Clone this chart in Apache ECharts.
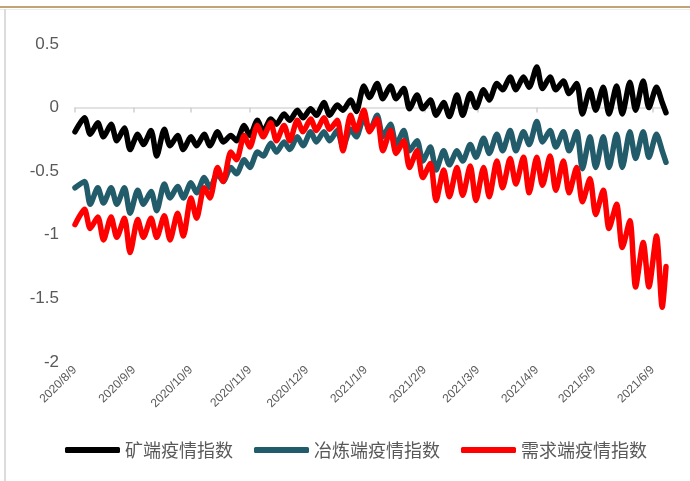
<!DOCTYPE html>
<html><head><meta charset="utf-8">
<script src="https://cdn.jsdelivr.net/npm/echarts@6/dist/echarts.min.js"></script>
<style>html,body{margin:0;padding:0;background:#fff}#c{width:690px;height:481px}</style>
</head><body><div id="c"></div>
<script>
const dates = [
'2020-08-09',
'2020-08-14','2020-08-17','2020-08-21','2020-08-24','2020-08-28','2020-08-31',
'2020-09-04','2020-09-07','2020-09-11','2020-09-14','2020-09-18','2020-09-21','2020-09-25','2020-09-28',
'2020-10-02','2020-10-05','2020-10-09','2020-10-12','2020-10-16','2020-10-19','2020-10-23','2020-10-26',
'2020-10-30','2020-11-02','2020-11-06','2020-11-09','2020-11-13','2020-11-16','2020-11-20','2020-11-23',
'2020-11-27','2020-11-30','2020-12-04','2020-12-07','2020-12-11','2020-12-14','2020-12-18','2020-12-21',
'2020-12-25','2020-12-28','2021-01-01','2021-01-04','2021-01-08','2021-01-11','2021-01-15','2021-01-18',
'2021-01-22','2021-01-25','2021-01-29','2021-02-01','2021-02-05','2021-02-08','2021-02-12','2021-02-15',
'2021-02-19','2021-02-22','2021-02-26','2021-03-01','2021-03-05','2021-03-08','2021-03-12','2021-03-15',
'2021-03-19','2021-03-22','2021-03-26','2021-03-29','2021-04-02','2021-04-05','2021-04-09','2021-04-12',
'2021-04-16','2021-04-19','2021-04-23','2021-04-26','2021-04-30','2021-05-03','2021-05-07','2021-05-10',
'2021-05-14','2021-05-17','2021-05-21','2021-05-24','2021-05-28','2021-05-31','2021-06-04','2021-06-07',
'2021-06-11','2021-06-14',
'2021-06-16'
];

const mineIndex = [
-0.19,
-0.08,-0.21,-0.12,-0.23,-0.13,-0.26,-0.16,-0.33,-0.21,-0.29,-0.18,-0.38,-0.17,-0.30,
-0.22,-0.33,-0.23,-0.30,-0.21,-0.30,-0.19,-0.27,-0.22,-0.26,-0.14,-0.22,-0.10,-0.19,
-0.09,-0.13,-0.05,-0.10,-0.02,-0.08,-0.01,-0.06,0.04,-0.06,0.02,-0.02,0.06,-0.03,
0.17,0.08,0.19,0.07,0.17,0.07,0.15,-0.01,0.10,-0.01,0.06,-0.06,0.04,-0.07,
0.10,-0.06,0.11,0.00,0.14,0.06,0.19,0.14,0.24,0.14,0.24,0.16,0.32,0.15,
0.24,0.14,0.21,0.11,0.19,-0.05,0.14,-0.02,0.16,-0.05,0.17,-0.05,0.20,-0.02,
0.21,0.00,0.16,0.04,
-0.04
];

const smeltIndex = [
-0.63,
-0.58,-0.76,-0.63,-0.75,-0.63,-0.76,-0.63,-0.83,-0.65,-0.76,-0.66,-0.81,-0.60,-0.71,
-0.62,-0.71,-0.59,-0.67,-0.55,-0.63,-0.52,-0.58,-0.47,-0.52,-0.41,-0.47,-0.35,-0.38,
-0.28,-0.35,-0.27,-0.33,-0.23,-0.30,-0.19,-0.27,-0.19,-0.26,-0.18,-0.31,-0.17,-0.23,
-0.08,-0.18,-0.06,-0.23,-0.13,-0.29,-0.18,-0.34,-0.26,-0.42,-0.31,-0.49,-0.34,-0.45,
-0.34,-0.42,-0.29,-0.39,-0.24,-0.36,-0.21,-0.34,-0.18,-0.34,-0.19,-0.29,-0.11,-0.27,
-0.18,-0.31,-0.19,-0.34,-0.19,-0.48,-0.23,-0.47,-0.23,-0.47,-0.21,-0.47,-0.19,-0.40,
-0.19,-0.39,-0.21,-0.34,
-0.43
];

const demandIndex = [
-0.92,
-0.80,-0.95,-0.86,-1.04,-0.86,-1.02,-0.87,-1.14,-0.88,-1.02,-0.87,-1.02,-0.85,-1.04,
-0.83,-1.01,-0.71,-0.87,-0.63,-0.71,-0.47,-0.58,-0.35,-0.41,-0.22,-0.31,-0.14,-0.23,
-0.12,-0.26,-0.14,-0.26,-0.10,-0.19,-0.09,-0.18,-0.08,-0.17,-0.10,-0.34,-0.06,-0.18,
-0.02,-0.19,-0.09,-0.34,-0.18,-0.36,-0.26,-0.47,-0.34,-0.55,-0.44,-0.73,-0.49,-0.70,
-0.47,-0.69,-0.46,-0.73,-0.47,-0.70,-0.42,-0.63,-0.40,-0.60,-0.39,-0.67,-0.39,-0.61,
-0.38,-0.65,-0.42,-0.67,-0.47,-0.74,-0.56,-0.84,-0.65,-0.95,-0.76,-1.10,-0.89,-1.41,
-1.06,-1.41,-1.01,-1.57,
-1.25
];

const seriesNames = ['矿端疫情指数', '冶炼端疫情指数', '需求端疫情指数'];
const seriesColors = ['#000000', '#225B6A', '#FF0000'];
const tickDates = ['2020-08-09','2020-09-09','2020-10-09','2020-11-09','2020-12-09','2021-01-09',
  '2021-02-09','2021-03-09','2021-04-09','2021-05-09','2021-06-09'];
const axisStart = '2020-08-09';
const axisEnd = '2021-06-16';

function ts(s) { const p = s.split('-').map(Number); return new Date(p[0], p[1] - 1, p[2]).getTime(); }
const tickValues = tickDates.map(ts);
const allValues = [mineIndex, smeltIndex, demandIndex];

const chart = echarts.init(document.getElementById('c'), null, { renderer: 'canvas' });
const font = "'Noto Sans CJK SC', 'Noto Sans', sans-serif";
chart.setOption({
  animation: false,
  backgroundColor: '#ffffff',
  textStyle: { fontFamily: font },
  grid: { left: 75, right: 24, top: 44, bottom: 119, containLabel: false },
  xAxis: {
    type: 'value',
    min: ts(axisStart),
    max: ts(axisEnd),
    axisLine: { show: true, lineStyle: { color: '#d9d9d9', width: 1.5 } },
    axisTick: { show: true, customValues: tickValues, length: 5, lineStyle: { color: '#d0d0d0', width: 1.5 } },
    splitLine: { show: false },
    axisLabel: {
      customValues: tickValues,
      rotate: 45,
      margin: 6,
      fontSize: 12,
      color: '#595959',
      fontFamily: 'Liberation Sans, Arial, sans-serif',
      hideOverlap: false,
      showMinLabel: true, showMaxLabel: true,
      formatter: function (v) { const d = new Date(v); return d.getFullYear() + '/' + (d.getMonth() + 1) + '/' + d.getDate(); }
    }
  },
  yAxis: {
    type: 'value',
    min: -2, max: 0.5, interval: 0.5,
    axisLine: { show: false }, axisTick: { show: false }, splitLine: { show: false },
    axisLabel: { fontSize: 17, color: '#595959', margin: 16, fontFamily: 'Liberation Sans, Arial, sans-serif' }
  },
  legend: {
    left: 60, top: 436,
    icon: 'roundRect', itemWidth: 55, itemHeight: 6, itemGap: 21,
    textStyle: { fontSize: 18, color: '#595959', fontFamily: font },
    data: seriesNames
  },
  graphic: [
    { type: 'line', shape: { x1: 0, y1: 7, x2: 690, y2: 7 }, style: { stroke: '#C2A378', lineWidth: 2 }, silent: true },
    { type: 'line', shape: { x1: 0, y1: 9.5, x2: 690, y2: 9.5 }, style: { stroke: '#ececec', lineWidth: 1 }, silent: true },
    { type: 'line', shape: { x1: 5, y1: 9, x2: 5, y2: 481 }, style: { stroke: '#dcdcdc', lineWidth: 2 }, silent: true }
  ],
  series: seriesNames.map(function (name, i) {
    return {
      name: name,
      type: 'line',
      data: dates.map(function (d, j) { return [ts(d), allValues[i][j]]; }),
      showSymbol: false,
      symbol: 'none',
      smooth: 0.25,
      color: seriesColors[i],
      lineStyle: { color: seriesColors[i], width: 5.5, cap: 'round', join: 'round' },
      z: 2 + i
    };
  })
});
</script></body></html>
